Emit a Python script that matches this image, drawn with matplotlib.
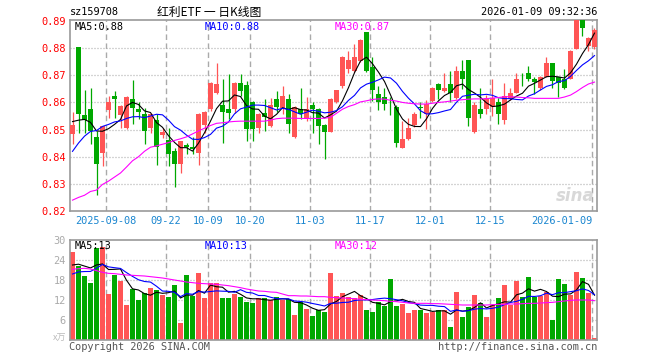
import matplotlib

matplotlib.use("Agg")
import matplotlib.pyplot as plt  # noqa: E402
import numpy as np  # noqa: E402
import pandas as pd  # noqa: E402

CODE = "sz159708"
TITLE = "红利ETF 一 日K线图"
STAMP = "2026-01-09 09:32:36"

# daily candles, 2025-08-29 .. 2026-01-09
open_ = [0.8483, 0.8806, 0.8554, 0.8574, 0.8474, 0.8413, 0.8572, 0.8623, 0.8555, 0.8507,
         0.8614, 0.8574, 0.8559, 0.8507, 0.8534, 0.8479, 0.8461, 0.8421, 0.8372, 0.8443,
         0.8437, 0.8413, 0.8516, 0.8575, 0.8633, 0.8591, 0.8575, 0.8575, 0.8672, 0.8664,
         0.8602, 0.8504, 0.8561, 0.8512, 0.8614, 0.8581, 0.8614, 0.8474, 0.8577, 0.8544,
         0.8590, 0.8575, 0.8517, 0.8492, 0.8600, 0.8659, 0.8722, 0.8714, 0.8753, 0.8858,
         0.8730, 0.8631, 0.8621, 0.8584, 0.8583, 0.8433, 0.8464, 0.8516, 0.8582, 0.8556,
         0.8606, 0.8667, 0.8643, 0.8667, 0.8618, 0.8714, 0.8756, 0.8492, 0.8575, 0.8575,
         0.8583, 0.8602, 0.8535, 0.8612, 0.8633, 0.8672, 0.8707, 0.8686, 0.8655, 0.8694,
         0.8747, 0.8692, 0.8686, 0.8686, 0.8796, 0.8907, 0.8809, 0.8805]
high = [0.8563, 0.8806, 0.8645, 0.8655, 0.8495, 0.8512, 0.8624, 0.8643, 0.8590, 0.8625,
        0.8681, 0.8600, 0.8581, 0.8560, 0.8556, 0.8507, 0.8507, 0.8431, 0.8458, 0.8452,
        0.8473, 0.8560, 0.8570, 0.8676, 0.8747, 0.8686, 0.8703, 0.8676, 0.8703, 0.8680,
        0.8604, 0.8560, 0.8612, 0.8618, 0.8643, 0.8661, 0.8630, 0.8587, 0.8655, 0.8619,
        0.8600, 0.8580, 0.8520, 0.8617, 0.8646, 0.8770, 0.8790, 0.8815, 0.8835, 0.8860,
        0.8766, 0.8660, 0.8655, 0.8621, 0.8590, 0.8532, 0.8544, 0.8563, 0.8600, 0.8610,
        0.8656, 0.8673, 0.8710, 0.8716, 0.8735, 0.8756, 0.8756, 0.8600, 0.8655, 0.8627,
        0.8686, 0.8618, 0.8673, 0.8655, 0.8707, 0.8707, 0.8735, 0.8693, 0.8699, 0.8766,
        0.8747, 0.8693, 0.8723, 0.8795, 0.8910, 0.8910, 0.8842, 0.8876]
low = [0.8448, 0.8489, 0.8489, 0.8448, 0.8259, 0.8367, 0.8544, 0.8544, 0.8507, 0.8501,
       0.8520, 0.8540, 0.8448, 0.8489, 0.8368, 0.8470, 0.8366, 0.8288, 0.8339, 0.8409,
       0.8409, 0.8368, 0.8489, 0.8570, 0.8630, 0.8449, 0.8540, 0.8560, 0.8625, 0.8458,
       0.8458, 0.8487, 0.8495, 0.8510, 0.8565, 0.8556, 0.8489, 0.8470, 0.8540, 0.8532,
       0.8489, 0.8448, 0.8390, 0.8490, 0.8598, 0.8655, 0.8710, 0.8712, 0.8750, 0.8712,
       0.8606, 0.8572, 0.8572, 0.8553, 0.8436, 0.8431, 0.8460, 0.8510, 0.8544, 0.8501,
       0.8603, 0.8612, 0.8640, 0.8600, 0.8614, 0.8649, 0.8513, 0.8489, 0.8544, 0.8559,
       0.8550, 0.8520, 0.8520, 0.8610, 0.8633, 0.8662, 0.8680, 0.8630, 0.8645, 0.8694,
       0.8655, 0.8620, 0.8650, 0.8686, 0.8796, 0.8845, 0.8790, 0.8796]
close = [0.8517, 0.8556, 0.8534, 0.8495, 0.8372, 0.8512, 0.8603, 0.8613, 0.8586, 0.8621,
         0.8578, 0.8564, 0.8495, 0.8556, 0.8436, 0.8491, 0.8409, 0.8372, 0.8458, 0.8437,
         0.8427, 0.8556, 0.8563, 0.8673, 0.8667, 0.8563, 0.8562, 0.8673, 0.8643, 0.8501,
         0.8501, 0.8556, 0.8548, 0.8592, 0.8583, 0.8624, 0.8522, 0.8583, 0.8556, 0.8575,
         0.8575, 0.8515, 0.8492, 0.8614, 0.8644, 0.8766, 0.8757, 0.8766, 0.8830, 0.8714,
         0.8645, 0.8603, 0.8594, 0.8583, 0.8450, 0.8464, 0.8505, 0.8556, 0.8580, 0.8593,
         0.8655, 0.8645, 0.8655, 0.8636, 0.8716, 0.8686, 0.8544, 0.8591, 0.8556, 0.8615,
         0.8618, 0.8556, 0.8624, 0.8633, 0.8686, 0.8671, 0.8686, 0.8676, 0.8694, 0.8747,
         0.8680, 0.8673, 0.8655, 0.8790, 0.8907, 0.8876, 0.8837, 0.8867]
# volume, 10k shares
volume = [26.5, 22.2, 19.2, 17.2, 27.5, 28.0, 13.8, 19.5, 17.8, 10.5,
          15.2, 12.0, 14.0, 15.5, 15.0, 13.5, 13.0, 16.5, 5.0, 19.5,
          13.2, 20.0, 12.5, 17.2, 17.0, 12.5, 12.5, 13.8, 12.8, 11.5,
          11.2, 12.5, 12.5, 12.0, 12.8, 12.0, 12.2, 7.5, 11.5, 9.3,
          7.2, 9.0, 8.5, 20.0, 13.2, 14.2, 13.0, 12.5, 13.5, 9.0,
          8.5, 11.5, 10.2, 18.3, 10.2, 10.8, 8.2, 9.0, 9.0, 8.2,
          8.5, 9.0, 9.0, 4.0, 14.5, 6.8, 10.0, 13.5, 11.0, 6.8,
          10.5, 12.5, 16.5, 10.5, 17.8, 13.0, 19.0, 13.0, 13.2, 14.5,
          6.0, 18.3, 16.8, 13.5, 20.5, 18.5, 14.2, 0.5]
# sessions before the window, only needed to seed the short averages
prior_close = [0.825, 0.828, 0.832, 0.834, 0.836, 0.853, 0.852, 0.855, 0.853]
prior_volume = [16.0, 18.0, 17.0, 17.5, 17.0, 21.0, 22.0, 20.0, 23.0]
# 30-day averages as drawn (their window reaches far before the chart)
ma30_price = [0.8240, 0.8250, 0.8258, 0.8272, 0.8277, 0.8298, 0.8310, 0.8325, 0.8340, 0.8362,
              0.8385, 0.8400, 0.8420, 0.8435, 0.8440, 0.8446, 0.8452, 0.8460, 0.8466, 0.8473,
              0.8484, 0.8495, 0.8505, 0.8515, 0.8523, 0.8525, 0.8528, 0.8530, 0.8531, 0.8531,
              0.8531, 0.8531, 0.8531, 0.8535, 0.8540, 0.8542, 0.8542, 0.8542, 0.8541, 0.8541,
              0.8541, 0.8541, 0.8542, 0.8545, 0.8560, 0.8575, 0.8585, 0.8592, 0.8602, 0.8606,
              0.8611, 0.8613, 0.8612, 0.8608, 0.8605, 0.8600, 0.8597, 0.8595, 0.8594, 0.8594,
              0.8597, 0.8600, 0.8602, 0.8605, 0.8608, 0.8610, 0.8612, 0.8613, 0.8613, 0.8614,
              0.8616, 0.8618, 0.8621, 0.8621, 0.8620, 0.8618, 0.8617, 0.8615, 0.8615, 0.8615,
              0.8615, 0.8615, 0.8620, 0.8627, 0.8640, 0.8655, 0.8668, 0.8675]
ma30_volume = [21.2, 21.4, 21.5, 21.3, 20.8, 20.3, 20.0, 19.9, 19.7, 19.5,
               19.4, 19.3, 19.2, 19.0, 18.8, 18.6, 18.3, 18.0, 17.7, 17.4,
               17.2, 17.0, 16.9, 16.8, 16.7, 16.5, 16.3, 16.0, 15.7, 15.3,
               15.0, 14.7, 14.6, 14.4, 14.3, 13.8, 13.3, 13.3, 13.2, 13.2,
               13.1, 13.0, 13.0, 12.8, 12.7, 12.6, 12.5, 12.4, 12.2, 12.1,
               12.0, 11.9, 11.8, 11.6, 11.5, 11.3, 11.1, 11.0, 11.0, 11.0,
               10.9, 10.9, 10.8, 10.7, 10.6, 10.5, 10.5, 10.5, 10.5, 10.5,
               10.6, 10.7, 10.7, 10.8, 10.8, 10.9, 11.0, 11.0, 11.1, 11.2,
               11.3, 11.5, 11.7, 11.9, 12.0, 12.0, 12.0, 11.8]

tick_index = [6, 16, 23, 30, 40, 50, 60, 70, 87]
tick_label = ["2025-09-08", "09-22", "10-09", "10-20", "11-03",
              "11-17", "12-01", "12-15", "2026-01-09"]
price_ticks = [0.82, 0.83, 0.84, 0.85, 0.86, 0.87, 0.88, 0.89]
volume_ticks = [6, 12, 18, 24, 30]
price_labels = ["MA5:0.88", "MA10:0.88", "MA30:0.87"]
volume_labels = ["MA5:13", "MA10:13", "MA30:12"]

RED = "#ff5555"
GREEN = "#00a800"
MA_COLORS = ["#000000", "#0000ff", "#ff00ff"]
FRAME = "#999999"
GRID = "#aaaaaa"
AXIS_RED = "#ff0000"
DATE_BLUE = "#1a86d0"
MONO = ["DejaVu Sans Mono"]
CJK = ["Noto Sans CJK SC", "DejaVu Sans"]
FS = 7.4

W, H = 660, 360
fig = plt.figure(figsize=(W / 100, H / 100), dpi=100)
fig.patch.set_facecolor("white")
ax = fig.add_axes([70 / W, 1 - 211 / H, 527 / W, 191 / H])
axv = fig.add_axes([70 / W, 1 - 340 / H, 527 / W, 100 / H])

o = np.array(open_)
c = np.array(close)
x = np.arange(len(c))
up = c >= o
colors = np.where(up, RED, GREEN)

cs = pd.Series(prior_close + close)
ma5 = cs.rolling(5).mean().iloc[len(prior_close):].to_numpy()
ma10 = cs.rolling(10).mean().iloc[len(prior_close):].to_numpy()
vs = pd.Series(prior_volume + volume)
vma5 = vs.rolling(5).mean().iloc[len(prior_volume):].to_numpy()
vma10 = vs.rolling(10).mean().iloc[len(prior_volume):].to_numpy()

xlim = (-0.4167, len(c) - 1 + 0.4167)
grid_shift = -0.42  # date lines sit on the bar's left edge

for a in (ax, axv):
    a.set_xlim(*xlim)
    for s in a.spines.values():
        s.set_color(FRAME)
        s.set_linewidth(1.2)
    a.set_xticks([])
    for i in tick_index:
        a.axvline(i + grid_shift, color=GRID, linewidth=1.0,
                  linestyle=(0, (4, 2.5)), zorder=0)

# price panel
ax.set_ylim(0.82, 0.89037)
for p in price_ticks[1:-1]:
    ax.axhline(p, color=GRID, linewidth=0.9, linestyle=(0, (0.8, 1.6)), zorder=0)
ax.vlines(x, low, high, colors=colors, linewidth=0.9, zorder=2)
body_lo = np.minimum(o, c)
body_h = np.maximum(np.abs(c - o), 0.00005)
ax.bar(x, body_h, bottom=body_lo, width=0.83, color=colors, linewidth=0, zorder=3)
for line, col in zip((ma5, ma10, ma30_price), MA_COLORS):
    ax.plot(x, line, color=col, linewidth=0.8, zorder=4)
ax.set_yticks(price_ticks)
ax.set_yticklabels([f"{p:.2f}" for p in price_ticks], color=AXIS_RED,
                   fontsize=FS, family=MONO)
ax.tick_params(axis="y", length=0, pad=3)
for i, lab in zip(tick_index, tick_label):
    ha = "right" if i == tick_index[-1] else "center"
    ax.text(i + grid_shift + (0.1 if ha == "right" else 0), -0.051, lab,
            transform=ax.get_xaxis_transform(), ha=ha, va="center",
            color=DATE_BLUE, fontsize=FS, family=MONO)
for xpix, lab, col in zip((75, 205, 335), price_labels, MA_COLORS):
    ax.text((xpix - 70) / 527, 1 - 7 / 191, lab, transform=ax.transAxes,
            ha="left", va="center", color=col, fontsize=FS, family=MONO, zorder=6)
ax.text(0.995, 0.08, "sina", transform=ax.transAxes, ha="right", va="center",
        color="#d8d8d8", fontsize=12, fontweight="bold", style="italic", zorder=1)

# volume panel
axv.set_ylim(0, 30)
for v in volume_ticks[:-1]:
    axv.axhline(v, color=GRID, linewidth=0.9, linestyle=(0, (0.8, 1.6)), zorder=0)
axv.bar(x, volume, width=0.83, color=colors, linewidth=0, zorder=2)
for line, col in zip((vma5, vma10, ma30_volume), MA_COLORS):
    axv.plot(x, line, color=col, linewidth=0.8, zorder=4)
axv.set_yticks(volume_ticks)
axv.set_yticklabels([str(v) for v in volume_ticks], color="#aaaaaa",
                    fontsize=FS, family=MONO)
axv.tick_params(axis="y", length=0, pad=3)
axv.text(-0.006, 0.02, "x万", transform=axv.transAxes, ha="right", va="center",
         color="#bbbbbb", fontsize=6.5, family=CJK)
for xpix, lab, col in zip((75, 205, 335), volume_labels, MA_COLORS):
    axv.text((xpix - 70) / 527, 1 - 6 / 100, lab, transform=axv.transAxes,
             ha="left", va="center", color=col, fontsize=FS, family=MONO, zorder=6)

# header and footer
fig.text(70 / W, 1 - 12 / H, CODE, ha="left", va="center", fontsize=FS,
         family=MONO, color="#000000")
fig.text(209 / W, 1 - 12 / H, TITLE, ha="center", va="center", fontsize=8.5,
         family=CJK, color="#000000")
fig.text(597 / W, 1 - 12 / H, STAMP, ha="right", va="center", fontsize=FS,
         family=MONO, color="#000000")
fig.text(69 / W, 1 - 347 / H, "Copyright 2026 SINA.COM", ha="left", va="center",
         fontsize=FS, family=MONO, color="#555555")
fig.text(597 / W, 1 - 347 / H, "http://finance.sina.com.cn", ha="right",
         va="center", fontsize=FS, family=MONO, color="#555555")

fig.savefig("out.png", dpi=100, facecolor="white")
